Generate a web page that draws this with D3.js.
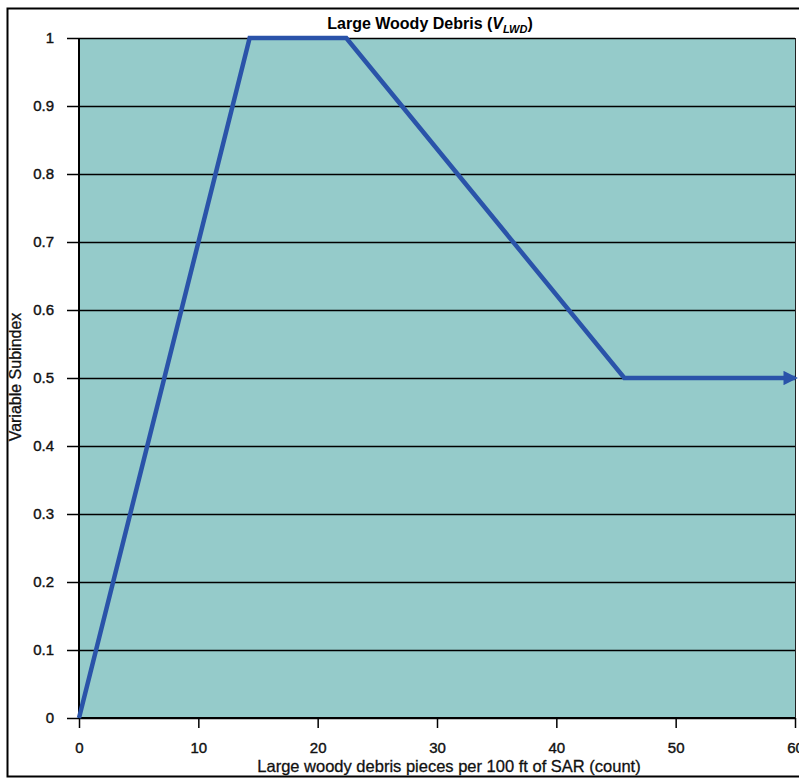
<!DOCTYPE html>
<html>
<head>
<meta charset="utf-8">
<script src="https://cdn.jsdelivr.net/npm/d3@7"></script>
<style>
  body { margin: 0; background: #fff; }
  text { font-family: "Liberation Sans", Arial, sans-serif; }
</style>
</head>
<body>
<script>
// values
var xValues = [0, 14.3, 22.4, 45.7, 60];
var yValues = [0, 1, 1, 0.5, 0.5];
var xTicks = [0, 10, 20, 30, 40, 50, 60];
var yTicks = [0, 0.1, 0.2, 0.3, 0.4, 0.5, 0.6, 0.7, 0.8, 0.9, 1];

var width = 799;
var height = 781;
var margin = {top: 38, right: 4, bottom: 63, left: 79};
var plotW = width - margin.left - margin.right;
var plotH = height - margin.top - margin.bottom;

var svg = d3.select("body").append("svg")
            .attr("width", width)
            .attr("height", height);

// outer frame
svg.append("rect")
   .attr("x", 7.5).attr("y", 8.5)
   .attr("width", width + 10).attr("height", 768)
   .attr("fill", "none").attr("stroke", "#000").attr("stroke-width", 2);

var xScale = d3.scaleLinear().domain([0, 60]).range([0, plotW]);
var yScale = d3.scaleLinear().domain([0, 1]).range([plotH, 0]);

var g = svg.append("g")
           .attr("transform", "translate(" + margin.left + "," + margin.top + ")");

// plot background
g.append("rect")
 .attr("width", plotW).attr("height", plotH)
 .attr("fill", "#95cbca");

// horizontal gridlines
g.selectAll("line.grid")
 .data(yTicks)
 .enter()
 .append("line")
 .attr("class", "grid")
 .attr("x1", 0).attr("x2", plotW)
 .attr("y1", function(d) { return Math.round(yScale(d)) + 0.5; })
 .attr("y2", function(d) { return Math.round(yScale(d)) + 0.5; })
 .attr("stroke", "#000").attr("stroke-width", 1.5);

// right border of plot
g.append("line")
 .attr("x1", plotW + 0.5).attr("x2", plotW + 0.5)
 .attr("y1", 0).attr("y2", plotH + 10)
 .attr("stroke", "#222").attr("stroke-width", 1);

// axes
var yAxis = d3.axisLeft(yScale)
              .tickValues(yTicks)
              .tickSize(12)
              .tickPadding(13)
              .tickFormat(function(d) { return d === 0 || d === 1 ? d3.format("d")(d) : d3.format(".1f")(d); });
var yG = g.append("g").call(yAxis);

var xAxis = d3.axisBottom(xScale)
              .tickValues(xTicks)
              .tickSize(10)
              .tickPadding(14)
              .tickFormat(d3.format("d"));
var xG = g.append("g").attr("transform", "translate(0," + plotH + ")").call(xAxis);

[yG, xG].forEach(function(a) {
    a.select(".domain").attr("stroke", "#000").attr("stroke-width", 2);
    a.selectAll(".tick line").attr("stroke", "#000").attr("stroke-width", 1.5);
    a.selectAll(".tick text")
     .attr("font-family", "'Liberation Sans', Arial, sans-serif")
     .attr("font-size", 15)
     .attr("fill", "#111")
     .attr("stroke", "#111")
     .attr("stroke-width", 0.4);
});
yG.select(".domain").attr("d", "M0,0V" + plotH);
xG.select(".domain").attr("d", "M0,0H" + plotW);

// arrow marker
svg.append("defs").append("marker")
   .attr("id", "arrow")
   .attr("viewBox", "0 0 10 10")
   .attr("refX", 8).attr("refY", 5)
   .attr("markerWidth", 3.2).attr("markerHeight", 3.2)
   .attr("orient", "auto")
   .append("path")
   .attr("d", "M0,0L10,5L0,10Z")
   .attr("fill", "#2a53a9");

// subindex line
var pts = xValues.map(function(x, i) { return [x, yValues[i]]; });
var line = d3.line()
             .x(function(d) { return xScale(d[0]); })
             .y(function(d) { return yScale(d[1]); });
g.append("path")
 .datum(pts)
 .attr("d", line)
 .attr("fill", "none")
 .attr("stroke", "#2a53a9")
 .attr("stroke-width", 4.5)
 .attr("stroke-linejoin", "miter")
 .attr("marker-end", "url(#arrow)");

// title
var title = svg.append("text")
   .attr("x", 430).attr("y", 29)
   .attr("text-anchor", "middle")
   .attr("font-size", 16)
   .attr("font-weight", "bold");
title.append("tspan").text("Large Woody Debris (");
title.append("tspan").attr("font-style", "italic").text("V");
title.append("tspan").attr("font-style", "italic").attr("font-size", 11).attr("dy", 4).text("LWD");
title.append("tspan").attr("dy", -4).text(")");

// axis titles
svg.append("text")
   .attr("x", 449).attr("y", 772)
   .attr("text-anchor", "middle")
   .attr("font-size", 16.5)
   .attr("fill", "#111")
   .attr("stroke", "#111")
   .attr("stroke-width", 0.3)
   .text("Large woody debris pieces per 100 ft of SAR (count)");

svg.append("text")
   .attr("transform", "translate(21,377) rotate(-90)")
   .attr("text-anchor", "middle")
   .attr("font-size", 16)
   .attr("fill", "#111")
   .attr("stroke", "#111")
   .attr("stroke-width", 0.3)
   .text("Variable Subindex");
</script>
</body>
</html>
